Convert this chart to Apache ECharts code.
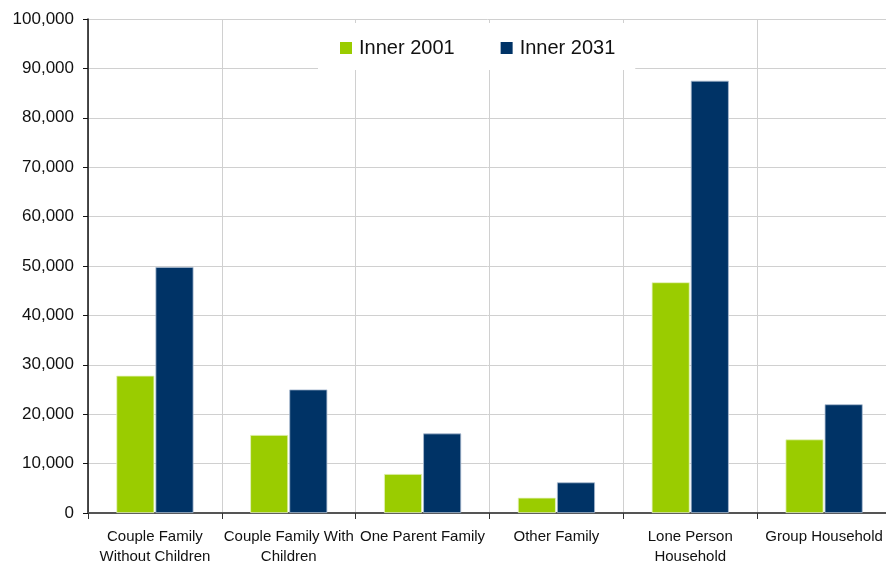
<!DOCTYPE html>
<html>
<head>
<meta charset="utf-8">
<script src="https://cdn.jsdelivr.net/npm/echarts@6/dist/echarts.min.js"></script>
<style>
  html, body { margin: 0; padding: 0; background: #fff; }
  #chart { width: 886px; height: 564px; }
</style>
</head>
<body>
<div id="chart"></div>
<script>
// Household types
const categories = [
  'Couple Family\nWithout Children',
  'Couple Family With\nChildren',
  'One Parent Family',
  'Other Family',
  'Lone Person\nHousehold',
  'Group Household'
];
// Household counts
const inner2001 = [27800, 15800, 7900, 3100, 46700, 14900];
const inner2031 = [49800, 25000, 16100, 6200, 87500, 22000];
const seriesNames = ['Inner 2001', 'Inner 2031'];

const chart = echarts.init(document.getElementById('chart'));
chart.setOption({
  animation: false,
  textStyle: { fontFamily: 'Liberation Sans, Arial, sans-serif' },
  grid: { left: 88, width: 803, top: 19, height: 494, containLabel: false, outerBoundsMode: 'none' },
  legend: {
    data: seriesNames,
    top: 23,
    left: 318,
    itemWidth: 12,
    itemHeight: 12,
    itemGap: 46,
    padding: [15, 20, 12, 22],
    backgroundColor: '#fff',
    textStyle: { fontSize: 20, color: '#111', padding: [0, 0, 0, 2] },
    itemStyle: { borderWidth: 0 },
    icon: 'rect'
  },
  xAxis: {
    type: 'category',
    data: categories,
    axisLine: { lineStyle: { color: '#555', width: 2 } },
    axisTick: { show: true, length: 6, lineStyle: { color: '#333', width: 1 } },
    splitLine: { show: true, lineStyle: { color: '#d0d0d0', width: 1 } },
    axisLabel: { fontSize: 15, color: '#111', lineHeight: 20, margin: 14, interval: 0 }
  },
  yAxis: {
    type: 'value',
    min: 0,
    max: 100000,
    interval: 10000,
    axisLine: { show: true, lineStyle: { color: '#111', width: 1.5 } },
    axisTick: { show: true, length: 5, lineStyle: { color: '#111' } },
    splitLine: { lineStyle: { color: '#d0d0d0', width: 1 } },
    axisLabel: {
      fontSize: 17, color: '#111', margin: 14,
      formatter: v => v.toLocaleString('en-US')
    }
  },
  series: [
    {
      name: seriesNames[0], type: 'bar', data: inner2001,
      barWidth: 38, barGap: '3%',
      itemStyle: { color: '#9acc00', borderColor: '#e6f2c0', borderWidth: 0.8 }
    },
    {
      name: seriesNames[1], type: 'bar', data: inner2031,
      barWidth: 38,
      itemStyle: { color: '#003366', borderColor: '#a9bbd0', borderWidth: 0.8 }
    }
  ]
});
</script>
</body>
</html>
